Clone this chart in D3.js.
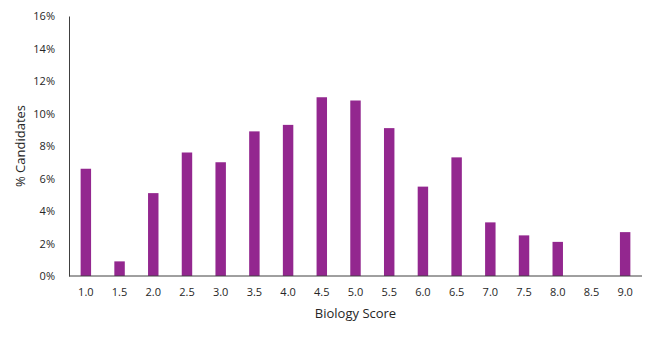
<!DOCTYPE html>
<html><head><meta charset="utf-8">
<script src="https://cdn.jsdelivr.net/npm/d3@7"></script>
<style>body{margin:0;background:#fff}</style>
</head><body>
<script>
const categories = ["1.0","1.5","2.0","2.5","3.0","3.5","4.0","4.5","5.0","5.5","6.0","6.5","7.0","7.5","8.0","8.5","9.0"];
const values = [6.6,0.9,5.1,7.6,7.0,8.9,9.3,11.0,10.8,9.1,5.5,7.3,3.3,2.5,2.1,0,2.7];
const yTicks = [0,2,4,6,8,10,12,14,16];
const xTitle = "Biology Score";
const yTitle = "% Candidates";

const W=655,H=349;
const m={l:69,r:13,t:16,b:73};
const svg=d3.select("body").append("svg").attr("width",W).attr("height",H);
const font="'Open Sans', sans-serif";
const txt="#262626";
const x=d3.scaleBand().domain(categories).range([m.l,W-m.r]).paddingInner(0.69).paddingOuter(0.345);
const y=d3.scaleLinear().domain([0,16]).range([H-m.b,m.t]);

svg.append("g").selectAll("rect").data(values).join("rect")
  .attr("x",(d,i)=>x(categories[i])).attr("width",x.bandwidth())
  .attr("y",d=>y(d)).attr("height",d=>y(0)-y(d)).attr("fill","#93278F");

const ya=svg.append("g").attr("transform",`translate(${m.l},0)`)
  .call(d3.axisLeft(y).tickValues(yTicks).tickSize(0).tickPadding(14).tickFormat(d=>d+"%"));
ya.select(".domain").attr("stroke","#404040");
ya.selectAll("text").attr("font-family",font).attr("font-size",11).attr("fill",txt);

const xa=svg.append("g").attr("transform",`translate(0,${y(0)})`)
  .call(d3.axisBottom(x).tickSize(0).tickPadding(12));
xa.select(".domain").attr("stroke","#404040").attr("d",`M${m.l},0H${W-m.r}`);
xa.selectAll("text").attr("font-family",font).attr("font-size",11).attr("fill",txt);

svg.append("text").attr("x",(m.l+W-m.r)/2).attr("y",318).attr("text-anchor","middle")
  .attr("font-family",font).attr("font-size",13).attr("fill",txt).text(xTitle);
svg.append("text").attr("transform",`translate(25,146) rotate(-90)`).attr("text-anchor","middle")
  .attr("font-family",font).attr("font-size",13).attr("fill",txt).text(yTitle);
</script>
</body></html>
